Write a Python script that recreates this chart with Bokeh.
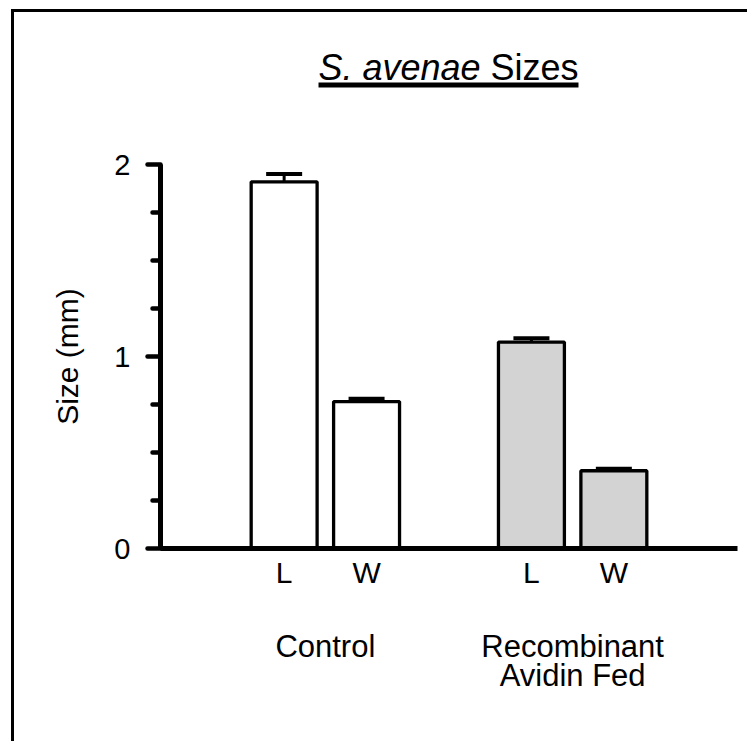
from bokeh.plotting import figure
from bokeh.layouts import column
from bokeh.models import (FactorRange, Range1d, FixedTicker, CategoricalAxis, Whisker,
                          TeeHead, ColumnDataSource, CategoricalScale, InlineStyleSheet)
from bokeh.core.properties import value
from bokeh.embed import file_html
from bokeh.resources import INLINE

# ---- data ----
groups = ["Control", "Recombinant Avidin Fed"]
group_labels = ["Control", "Recombinant\nAvidin Fed"]
measures = ["L", "W"]
means = [1.91, 0.765, 1.075, 0.405]
errors = [0.04, 0.015, 0.02, 0.01]
fills = ["white", "white", "#d3d3d3", "#d3d3d3"]
y_ticks = [0, 1, 2]
y_minor = [0.25, 0.5, 0.75, 1.25, 1.5, 1.75]
title_italic = "S. avenae"
title_plain = "Sizes"
y_label = "Size (mm)"

FONT = "Liberation Sans"
W_TOTAL, TITLE_H, MAIN_H = 747, 100, 641

factors = [(g, m) for g in groups for m in measures]
upper = [m + e for m, e in zip(means, errors)]

src = ColumnDataSource(data=dict(x=factors, top=means, upper=upper,
                                 lower=means, fill=fills))

# main nested range: synthetic span -1 .. 6
x_range = FactorRange(*factors, factor_padding=0, group_padding=1.0,
                      range_padding=1.0, range_padding_units="absolute")

# ---------------- title strip (shares the x mapping) ----------------
t = figure(x_range=x_range, y_range=Range1d(TITLE_H, 0), width=W_TOTAL, height=TITLE_H,
           output_backend="svg", toolbar_location=None,
           x_axis_location=None, y_axis_location=None,
           min_border_left=160, min_border_right=10, min_border_top=0,
           min_border_bottom=0)
t.outline_line_color = None
t.xgrid.visible = False
t.ygrid.visible = False
t.background_fill_color = None
t.border_fill_color = None

TITLE_LEFT, TITLE_RIGHT, TITLE_BASE, UL_Y = 0.917, 4.071, 67, 84.5
t.text(x=[TITLE_LEFT], y=[TITLE_BASE], text=[title_italic],
       text_font=value(FONT), text_font_size="36px", text_font_style="italic",
       text_align="left", text_baseline="alphabetic", text_color="black")
t.text(x=[TITLE_RIGHT], y=[TITLE_BASE], text=[title_plain],
       text_font=value(FONT), text_font_size="36px", text_font_style="normal",
       text_align="right", text_baseline="alphabetic", text_color="black")
t.segment(x0=[TITLE_LEFT], y0=[UL_Y], x1=[TITLE_RIGHT], y1=[UL_Y],
          line_color="black", line_width=5)

# ---------------- main chart ----------------
p = figure(x_range=x_range, y_range=Range1d(0, 2), width=W_TOTAL, height=MAIN_H,
           output_backend="svg", toolbar_location=None,
           min_border_left=160, min_border_right=10, min_border_top=164 - TITLE_H,
           min_border_bottom=193)
p.outline_line_color = None
p.xgrid.visible = False
p.ygrid.visible = False
p.background_fill_color = None
p.border_fill_color = None

p.vbar(x="x", top="top", width=0.8, bottom=0, source=src, fill_color="fill",
       line_color="black", line_width=3.3)

w = Whisker(base="x", upper="upper", lower="lower", source=src,
            line_color="black", line_width=3,
            upper_head=TeeHead(size=36, line_width=4, line_color="black"),
            lower_head=None)
p.add_layout(w)

# y axis
ya = p.yaxis[0]
ya.ticker = FixedTicker(ticks=y_ticks, minor_ticks=y_minor)
ya.axis_line_width = 5
ya.axis_line_color = "black"
ya.major_tick_out = 13
ya.major_tick_in = 0
ya.minor_tick_out = 8
ya.minor_tick_in = 0
ya.major_tick_line_width = 4.5
ya.minor_tick_line_width = 4.5
ya.major_tick_line_cap = "round"
ya.minor_tick_line_cap = "round"
ya.major_label_text_font = FONT
ya.major_label_text_font_size = "29px"
ya.major_label_text_color = "black"
ya.major_label_standoff = 17
ya.axis_label = y_label
ya.axis_label_text_font = FONT
ya.axis_label_text_font_size = "30px"
ya.axis_label_text_font_style = "normal"
ya.axis_label_text_color = "black"
ya.axis_label_standoff = 27

# x axis (categorical L / W)
xa = p.xaxis[0]
xa.axis_line_width = 5
xa.axis_line_color = "black"
xa.major_tick_line_color = None
xa.major_tick_out = 0
xa.major_tick_in = 0
xa.major_label_text_font = FONT
xa.major_label_text_font_size = "30px"
xa.major_label_text_color = "black"
xa.major_label_standoff = 7
xa.group_text_color = None
xa.group_text_font_size = "1px"
xa.separator_line_color = None

# group label axis: a flat factor range laid out on the same pixel span
p.extra_x_ranges = {"grp": FactorRange(*group_labels, factor_padding=2,
                                       range_padding=1.5,
                                       range_padding_units="absolute")}
p.extra_x_scales = {"grp": CategoricalScale()}
ga = CategoricalAxis(x_range_name="grp")
ga.axis_line_color = None
ga.major_tick_line_color = None
ga.minor_tick_line_color = None
ga.major_tick_out = 0
ga.major_tick_in = 0
ga.major_label_text_font = FONT
ga.major_label_text_font_size = "31px"
ga.major_label_text_color = "black"
ga.major_label_text_line_height = 0.85
ga.major_label_standoff = 37
p.add_layout(ga, "below")

frame_css = InlineStyleSheet(css=""":host {
  background-image: linear-gradient(#000, #000), linear-gradient(#000, #000);
  background-repeat: no-repeat;
  background-size: 3px 100%, 100% 3px;
  background-position: 11px 9px, 11px 9px;
}""")

layout = column(t, p, spacing=0, stylesheets=[frame_css])

open("out.html", "w").write(file_html(layout, INLINE))
